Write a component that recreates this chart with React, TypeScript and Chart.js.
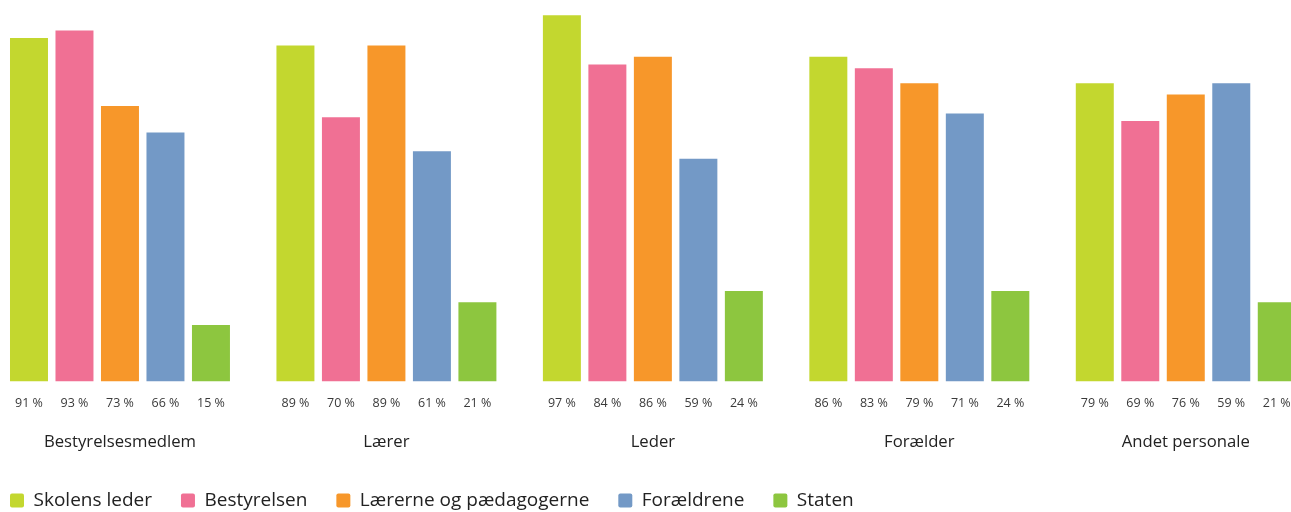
import React, { useEffect, useRef } from "react";
import { Chart, registerables } from "chart.js";

Chart.register(...registerables);

const categories = ["Bestyrelsesmedlem", "Lærer", "Leder", "Forælder", "Andet personale"];
const seriesNames = ["Skolens leder", "Bestyrelsen", "Lærerne og pædagogerne", "Forældrene", "Staten"];
const colors = ["#C3D72F", "#F07094", "#F7972A", "#7399C6", "#8DC63F"];

const skolensLeder = [91, 89, 97, 86, 79];
const bestyrelsen = [93, 70, 84, 83, 69];
const laererne = [73, 89, 86, 79, 76];
const foraeldrene = [66, 61, 59, 71, 79];
const staten = [15, 21, 24, 24, 21];

const skolensLederLabels = ["91 %", "89 %", "97 %", "86 %", "79 %"];
const bestyrelsenLabels = ["93 %", "70 %", "84 %", "83 %", "69 %"];
const laererneLabels = ["73 %", "89 %", "86 %", "79 %", "76 %"];
const foraeldreneLabels = ["66 %", "61 %", "59 %", "71 %", "59 %"];
const statenLabels = ["15 %", "21 %", "24 %", "24 %", "21 %"];

const seriesValues = [skolensLeder, bestyrelsen, laererne, foraeldrene, staten];
const seriesLabels = [skolensLederLabels, bestyrelsenLabels, laererneLabels, foraeldreneLabels, statenLabels];

const FONT = "'Open Sans', 'Noto Sans', sans-serif";

const valueLabelPlugin = {
  id: "valueLabels",
  afterDatasetsDraw(chart: any) {
    const ctx = chart.ctx;
    const area = chart.chartArea;
    ctx.save();
    ctx.font = `12.5px ${FONT}`;
    ctx.fillStyle = "#3a3a3a";
    ctx.textAlign = "center";
    ctx.textBaseline = "middle";
    chart.data.datasets.forEach((ds: any, di: number) => {
      const meta = chart.getDatasetMeta(di);
      meta.data.forEach((el: any, i: number) => {
        ctx.fillText(seriesLabels[di][i], el.x, area.bottom + 22);
      });
    });
    ctx.restore();
  },
};

export default function App() {
  const ref = useRef<HTMLCanvasElement | null>(null);
  useEffect(() => {
    document.body.style.margin = "0";
    const chart = new Chart(ref.current as HTMLCanvasElement, {
      type: "bar",
      data: {
        labels: categories,
        datasets: seriesNames.map((name, i) => ({
          label: name,
          data: seriesValues[i],
          backgroundColor: colors[i],
          borderWidth: 0,
          borderRadius: 0,
          categoryPercentage: 0.8537,
          barPercentage: 0.835,
        })),
      },
      options: {
        animation: false,
        responsive: false,
        maintainAspectRatio: false,
        layout: { padding: { left: 0, right: 0, top: 4, bottom: 0 } },
        plugins: {
          tooltip: { enabled: false },
          legend: {
            position: "bottom",
            align: "start",
            labels: {
              boxWidth: 14,
              boxHeight: 14,
              padding: 29,
              color: "#222",
              font: { family: FONT, size: 19 },
              useBorderRadius: true,
              borderRadius: 2,
            },
          },
        },
        scales: {
          x: {
            grid: { display: false, drawTicks: false },
            border: { display: false },
            ticks: {
              color: "#222",
              font: { family: FONT, size: 16.7 },
              padding: 51,
              maxRotation: 0,
              autoSkip: false,
            },
            afterFit: (scale: any) => {
              scale.height = 80.4;
            },
          },
          y: {
            min: 0,
            max: 100,
            grid: { display: false, drawTicks: false },
            border: { display: false },
            ticks: { display: false },
            afterFit: (scale: any) => {
              scale.width = 5.75;
            },
          },
        },
      },
      plugins: [valueLabelPlugin],
    });
    return () => chart.destroy();
  }, []);
  return (
    <div style={{ position: "relative", width: 1291, height: 512, overflow: "hidden", background: "#fff" }}>
      <canvas
        ref={ref}
        width={1338}
        height={520}
        style={{ position: "absolute", left: -19, top: 0, width: 1338, height: 520 }}
      />
    </div>
  );
}
